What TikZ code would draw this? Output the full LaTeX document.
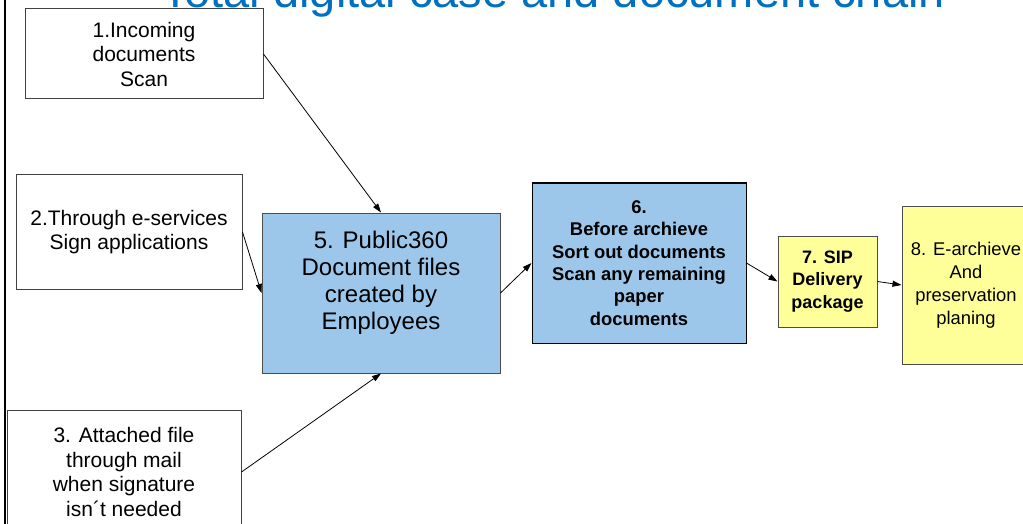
\documentclass[tikz,border=0pt]{standalone}
\usepackage{fontspec}
\setmainfont{Liberation Sans}
\usetikzlibrary{arrows.meta}
\definecolor{titleblue}{RGB}{0,112,192}
\definecolor{boxblue}{RGB}{157,199,234}
\definecolor{boxyellow}{RGB}{255,255,153}

\begin{document}
\begin{tikzpicture}[>={Triangle[length=9pt,width=6pt]}, x=1pt, y=-1pt,
    whitebox/.style={draw=black!75, fill=white, line width=1pt, inner sep=0pt, align=center, font=\fontsize{21}{24.5}\selectfont},
    bluebox/.style={draw=black!70, fill=boxblue, line width=1pt, inner sep=0pt, align=center},
    yellowbox/.style={draw=black!70, fill=boxyellow, line width=1pt, inner sep=0pt, align=center},
    link/.style={->, line width=0.8pt}]

    \useasboundingbox (0,0) rectangle (1023,524);

    \node[anchor=base, text=titleblue, font=\fontsize{47}{50}\selectfont] (title) at (553,7.5) {Total digital case and document chain};
    \draw[line width=2.5pt] (5,0) -- (5,524);

    % where the documents come from
    \node[whitebox, minimum width=238pt, minimum height=90pt] (incoming) at (144,54) {1.Incoming\\documents\\Scan};
    \node[whitebox, minimum width=226pt, minimum height=114pt] (eservice) at (129,232) {2.Through e-services\\Sign applications};
    \node[whitebox, minimum width=234pt, minimum height=124pt] (mailfile) at (124,472) {3. Attached file\\through mail\\when signature\\isn´t needed};

    % case handling and archive chain
    \node[bluebox, minimum width=238pt, minimum height=160pt] (public) at (381,293) {};
    \node[align=center, font=\fontsize{24}{27}\selectfont] (public-text) at (381,283) {5. Public360\\Document files\\created by\\Employees};
    \node[bluebox, draw=black, minimum width=214pt, minimum height=160pt, font=\bfseries\fontsize{18.4}{22.3}\selectfont] (prearchive) at (639,263) {6.\\Before archieve\\Sort out documents\\Scan any remaining\\paper\\documents};
    \node[yellowbox, minimum width=99pt, minimum height=91pt, font=\bfseries\fontsize{18}{22.5}\selectfont] (sip) at (827.5,281.5) {7. SIP\\Delivery\\package};
    \node[yellowbox, minimum width=128pt, minimum height=158pt, font=\fontsize{18.4}{23}\selectfont] (earchive) at (966,285) {8. E-archieve\\And\\preservation\\planing};

    \draw[link] (incoming.east) -- (public.north);
    \draw[link] (eservice.east) -- (public.west);
    \draw[link] (mailfile.east) -- (public.south);
    \draw[link] (public.east) -- (prearchive.west);
    \draw[link] (prearchive.east) -- (sip.west);
    \draw[link] (sip.east) -- (earchive.west);

\end{tikzpicture}
\end{document}
